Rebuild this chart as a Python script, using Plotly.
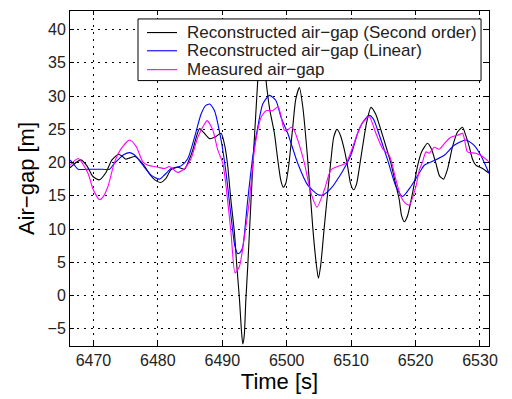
import plotly.graph_objects as go

# ---- Data ----
t_second = [6466.36, 6467.29, 6468.06, 6468.99, 6469.92, 6470.93, 6471.94, 6472.87, 6473.80, 6474.42,
            6475.04, 6475.66, 6476.43, 6477.21, 6477.98, 6478.76, 6479.53, 6480.42, 6481.24, 6482.02,
            6483.10, 6484.14, 6484.81, 6485.43, 6485.89, 6486.47, 6487.13, 6488.02, 6488.84, 6489.81,
            6490.39, 6490.85, 6491.32, 6491.89, 6492.25, 6492.67, 6492.95, 6493.18, 6493.41, 6493.64,
            6493.95, 6494.34, 6494.73, 6495.12, 6495.50, 6495.81, 6496.05, 6496.43, 6496.79, 6497.36,
            6498.09, 6498.60, 6499.07, 6499.46, 6499.84, 6500.31, 6500.93, 6501.40, 6501.97, 6502.48,
            6503.26, 6504.03, 6504.50, 6504.91, 6505.27, 6505.84, 6506.36, 6506.87, 6507.29, 6507.80,
            6508.37, 6508.95, 6509.46, 6509.92, 6510.39, 6510.85, 6511.32, 6511.78, 6512.40, 6513.07,
            6513.80, 6514.62, 6515.35, 6516.17, 6516.90, 6517.47, 6517.83, 6518.25, 6518.76, 6519.53,
            6520.31, 6520.93, 6521.86, 6522.48, 6523.15, 6523.72, 6524.34, 6524.96, 6525.74, 6526.51,
            6527.29, 6527.75, 6528.33, 6528.84, 6529.35, 6530.39, 6531.40]
v_second = [19.2, 20.0, 20.4, 19.5, 17.9, 17.4, 18.5, 20.4, 21.2, 21.0,
            20.5, 20.7, 20.9, 20.3, 19.4, 18.2, 17.4, 17.0, 17.6, 18.9,
            19.3, 19.0, 20.3, 21.9, 23.6, 25.1, 24.5, 23.6, 23.8, 24.4,
            22.5, 19.4, 14.5, 9.4, 4.5, -0.6, -5.0, -7.3, -6.0, -1.0,
            4.4, 12.0, 19.4, 26.0, 32.3, 37.0, 39.0, 36.0, 32.3, 28.0,
            24.4, 20.5, 17.4, 16.3, 16.8, 19.5, 25.3, 29.5, 31.3, 28.5,
            20.4, 10.4, 5.5, 2.6, 4.5, 10.4, 15.5, 20.4, 23.8, 25.0,
            24.0, 21.9, 19.4, 16.8, 15.9, 16.8, 19.5, 22.4, 26.0, 28.3,
            27.3, 24.9, 22.6, 19.9, 16.8, 14.4, 12.0, 11.1, 12.0, 15.4,
            19.5, 21.6, 22.9, 22.0, 19.9, 18.0, 17.5, 19.0, 22.4, 24.6,
            25.3, 24.2, 22.4, 20.5, 19.6, 19.1, 18.4]

t_linear = [6466.36, 6466.98, 6467.60, 6469.46, 6471.01, 6472.51, 6473.18, 6473.80, 6474.73, 6475.61,
            6476.28, 6476.90, 6477.67, 6478.96, 6480.26, 6481.09, 6482.06, 6483.61, 6484.65, 6485.69,
            6486.71, 6487.44, 6488.06, 6488.79, 6489.81, 6490.59, 6491.36, 6491.94, 6492.40, 6492.87,
            6493.18, 6493.95, 6494.73, 6495.50, 6496.28, 6497.32, 6498.34, 6499.12, 6500.16, 6501.71,
            6503.26, 6504.81, 6505.58, 6506.87, 6508.17, 6509.19, 6510.08, 6511.01, 6511.78, 6512.82,
            6513.49, 6514.11, 6515.66, 6516.95, 6517.98, 6519.27, 6520.93, 6521.35, 6522.90, 6524.45,
            6526.00, 6527.80, 6529.10, 6530.12, 6531.40]
v_linear = [20.4, 19.7, 19.0, 19.0, 19.0, 19.0, 19.8, 20.4, 21.2, 21.5,
            21.2, 20.6, 19.6, 18.1, 17.5, 18.2, 19.1, 19.5, 20.6, 23.8,
            27.3, 28.6, 28.8, 27.8, 23.4, 18.4, 11.9, 7.5, 6.3, 6.6,
            7.3, 14.4, 20.9, 25.3, 28.8, 30.1, 29.3, 26.8, 24.4, 19.9,
            16.6, 15.2, 15.1, 16.1, 17.9, 19.6, 21.4, 24.4, 26.0, 27.1,
            26.5, 24.9, 20.4, 16.4, 14.9, 16.4, 19.0, 19.6, 20.3, 21.1,
            22.6, 23.4, 22.6, 21.1, 18.4]

t_measured = [6466.36, 6467.64, 6469.15, 6469.97, 6470.96, 6471.47, 6472.25, 6473.29, 6474.31, 6475.61,
              6476.64, 6477.67, 6478.45, 6480.00, 6481.04, 6481.81, 6482.48, 6483.10, 6484.14, 6485.16,
              6486.20, 6487.24, 6487.67, 6488.53, 6489.30, 6490.08, 6490.59, 6491.36, 6491.98, 6492.67,
              6493.44, 6494.22, 6494.99, 6496.02, 6496.79, 6497.83, 6498.65, 6499.07, 6499.64, 6500.16,
              6500.67, 6501.09, 6501.71, 6502.74, 6503.77, 6504.70, 6505.84, 6506.87, 6508.17, 6509.19,
              6510.08, 6511.01, 6511.78, 6512.82, 6513.84, 6514.88, 6515.92, 6516.43, 6516.95, 6517.72,
              6518.29, 6519.02, 6520.05, 6520.62, 6521.09, 6521.60, 6522.12, 6522.90, 6523.67, 6524.70,
              6525.47, 6526.78, 6527.29, 6527.60, 6528.06, 6529.35, 6530.39, 6531.40]
v_measured = [19.6, 20.6, 18.4, 15.9, 14.4, 14.8, 16.4, 20.1, 22.1, 23.4,
              22.4, 20.1, 19.6, 19.3, 19.1, 19.4, 18.9, 18.5, 19.1, 20.6,
              23.8, 25.8, 26.3, 24.9, 21.9, 19.9, 16.4, 9.4, 3.4, 4.4,
              8.9, 14.4, 21.9, 26.8, 27.8, 27.8, 28.4, 27.2, 24.9, 24.9,
              25.3, 25.0, 23.4, 19.9, 15.4, 13.3, 15.9, 18.9, 19.5, 19.9,
              21.9, 24.4, 26.0, 26.9, 24.4, 22.1, 21.1, 19.5, 17.4, 14.9,
              14.0, 13.6, 16.4, 19.0, 20.1, 21.6, 21.4, 22.3, 22.0, 23.1,
              23.8, 24.2, 24.4, 23.5, 21.6, 21.4, 20.9, 20.1]

series_names = ["Reconstructed air−gap (Second order)",
                "Reconstructed air−gap (Linear)",
                "Measured air−gap"]
series_colors = ["black", "#0000ff", "#ff00ff"]
x_ticks = [6470, 6480, 6490, 6500, 6510, 6520, 6530]
y_ticks = [-5, 0, 5, 10, 15, 20, 25, 30, 35, 40]

fig = go.Figure()
for (tx, vy), name, col in zip([(t_second, v_second), (t_linear, v_linear), (t_measured, v_measured)],
                               series_names, series_colors):
    fig.add_trace(go.Scatter(x=tx, y=vy, mode="lines", name=name, showlegend=False,
                             line=dict(color=col, width=1.1, shape="spline", smoothing=0.6)))

axis_common = dict(
    showline=True, linecolor="black", linewidth=1, mirror="ticks",
    ticks="inside", ticklen=4, tickcolor="black",
    showgrid=True, gridcolor="black", griddash="2px,5px", gridwidth=1,
    zeroline=False,
    tickfont=dict(family="Liberation Sans, Arial", size=16, color="#222"),
)

# ---- Legend box (drawn in paper coordinates, MATLAB style) ----
leg_x0, leg_x1, leg_y0, leg_y1 = 0.1623, 0.981, 0.7923, 0.9763
row_y = [0.9356, 0.8813, 0.8249]
shapes = [dict(type="rect", xref="paper", yref="paper", x0=leg_x0, x1=leg_x1, y0=leg_y0, y1=leg_y1,
               fillcolor="white", line=dict(color="black", width=1), layer="above")]
annotations = []
for name, col, ry in zip(series_names, series_colors, row_y):
    shapes.append(dict(type="line", xref="paper", yref="paper", x0=0.1838, x1=0.2554, y0=ry, y1=ry,
                       line=dict(color=col, width=1.1), layer="above"))
    annotations.append(dict(xref="paper", yref="paper", x=0.2745, y=ry, xanchor="left", yanchor="middle",
                            text=name, showarrow=False,
                            font=dict(family="Liberation Sans, Arial", size=17, color="#222")))

fig.update_layout(
    width=512, height=399,
    margin=dict(l=70, r=23, t=10, b=52),
    paper_bgcolor="white", plot_bgcolor="white",
    font=dict(family="Liberation Sans, Arial", color="black"),
    xaxis=dict(range=[6466.36, 6531.4], tickvals=x_ticks,
               title=dict(text="Time [s]", font=dict(size=22), standoff=4), **axis_common),
    yaxis=dict(range=[-7.6, 42.8], tickvals=y_ticks,
               title=dict(text="Air−gap [m]", font=dict(size=22), standoff=6), **axis_common),
    shapes=shapes,
    annotations=annotations,
    showlegend=False,
)

fig.write_html("out.html")
